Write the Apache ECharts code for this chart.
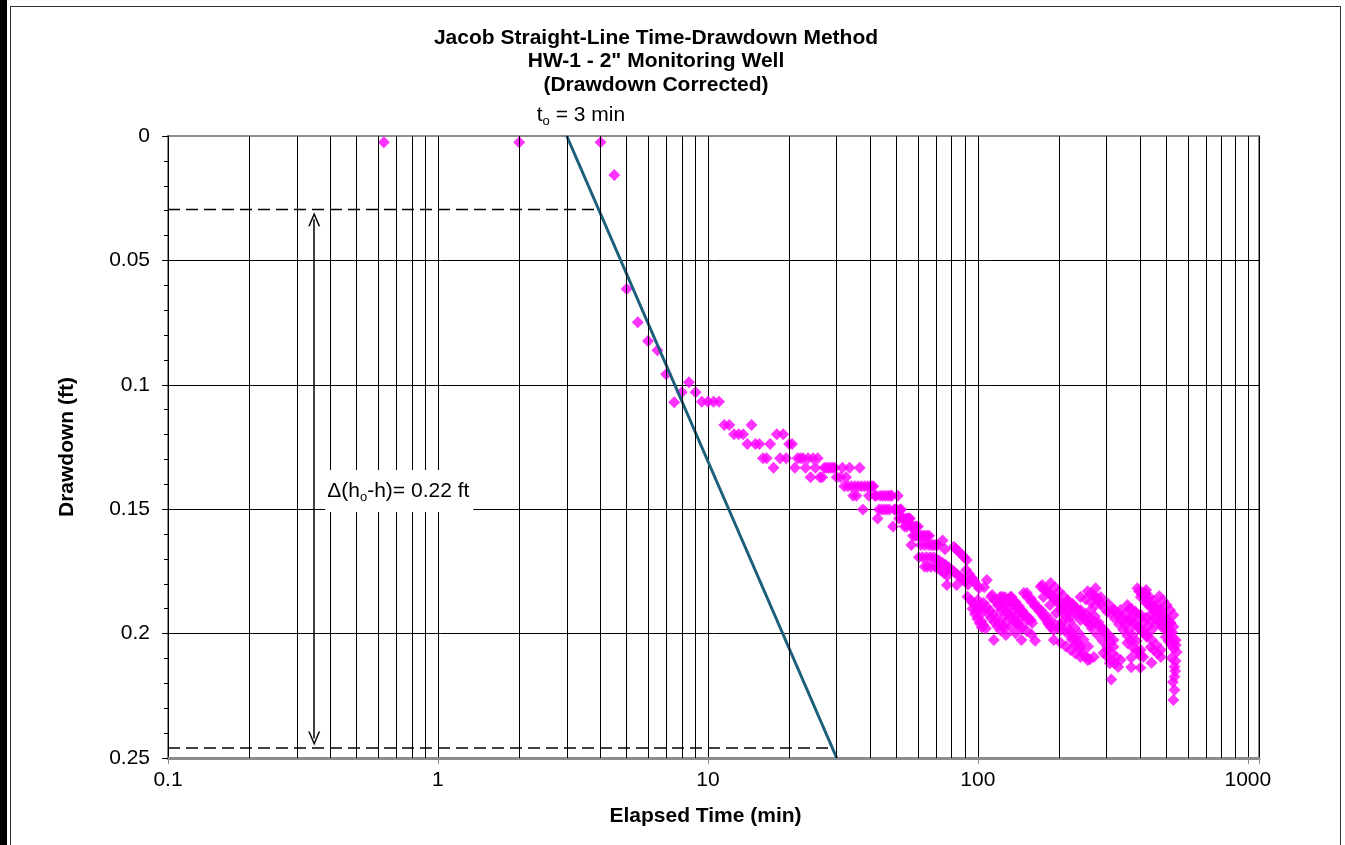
<!DOCTYPE html>
<html>
<head>
<meta charset="utf-8">
<title>Jacob Straight-Line Time-Drawdown Method</title>
<script src="https://cdn.jsdelivr.net/npm/echarts@6.0.0/dist/echarts.min.js"></script>
<style>
html, body { margin: 0; padding: 0; background: #fff; }
#chart { position: absolute; left: 0; top: 0; width: 1345px; height: 845px; }
.edge { position: absolute; left: 0; top: 0; width: 7px; height: 845px; background: #000; }
.frame { position: absolute; left: 10px; top: 6px; width: 1329px; height: 860px; border: 1px solid #333; pointer-events: none; }
</style>
</head>
<body>
<div id="chart"></div>
<div class="edge"></div>
<div class="frame"></div>
<script>
const titleLines = ['Jacob Straight-Line Time-Drawdown Method', 'HW-1 - 2" Monitoring Well', '(Drawdown Corrected)'];
const xTickLabels = ['0.1', '1', '10', '100', '1000'];

// [elapsed time (min), drawdown (ft)]
const earlyPoints = [
  [0.63, 0.0025], [2, 0.0025], [4, 0.0025], [4.5, 0.0157], [5, 0.0615], [5.5, 0.0749], [6, 0.0824],
  [6.5, 0.0861], [7, 0.0958], [7.5, 0.107], [8, 0.103], [8.5, 0.099], [9, 0.103], [9.5, 0.1068],
  [10, 0.1068], [10.5, 0.1068], [11, 0.1068], [11.5, 0.1162], [12, 0.1162], [12.5, 0.1199],
  [13, 0.1199], [13.5, 0.1199], [14, 0.1238], [14.5, 0.1162]
];

const midPoints = [
  [15, 0.1238], [15.5, 0.1238], [16, 0.1295], [16.5, 0.1295], [17, 0.1238], [17.5, 0.1333], [18, 0.1199],
  [18.5, 0.1295], [19, 0.1199], [19.5, 0.1295], [20, 0.1238], [20.5, 0.1238], [21, 0.1333], [21.5, 0.1295],
  [22, 0.1295], [22.5, 0.1295], [23, 0.1333], [23.5, 0.1295], [24, 0.1372], [24.5, 0.1295], [25, 0.1333],
  [25.5, 0.1295], [26, 0.1372], [26.5, 0.1372], [27, 0.1333], [27.5, 0.1333], [28, 0.1333], [28.5, 0.1333],
  [29, 0.1333], [29.5, 0.1333], [30, 0.1372], [31, 0.1372], [31.5, 0.1333], [32, 0.1408], [32.5, 0.1372],
  [33, 0.1408], [33.5, 0.1333], [34, 0.1408], [34.5, 0.1446], [35, 0.1408], [35.5, 0.1446], [36, 0.1408],
  [36.5, 0.1333], [37, 0.1408], [37.5, 0.1501], [38, 0.1408], [39, 0.1408], [39.5, 0.1446], [40, 0.1408],
  [40.5, 0.1408], [41, 0.1408], [41.5, 0.1446], [42, 0.1446], [42.5, 0.1537], [43, 0.1501], [43.5, 0.1446],
  [44, 0.1501], [44.5, 0.1446], [45, 0.1501], [45.5, 0.1446], [46, 0.1501], [46.5, 0.1446], [47, 0.1501],
  [47.5, 0.1446], [48, 0.1446], [48.5, 0.157], [49, 0.1501], [49.5, 0.1501], [50, 0.1501], [50.5, 0.1446],
  [51, 0.1537], [51.5, 0.1501], [52, 0.1501], [52.5, 0.1537], [53, 0.1537], [53.5, 0.157], [54, 0.1537],
  [54.5, 0.157], [55, 0.1537], [55.5, 0.1537], [56, 0.1537], [56.5, 0.157], [56.7, 0.1644], [57, 0.157],
  [57.5, 0.1607], [58, 0.157], [58.5, 0.1607], [59, 0.157], [59.5, 0.1607], [60, 0.157], [61, 0.1607],
  [61.5, 0.1644], [62, 0.1607], [63, 0.1607], [63.5, 0.1644], [64, 0.1607], [65, 0.1607], [65.5, 0.1644],
  [66, 0.1607], [67, 0.1644], [68, 0.1644], [69, 0.1644], [70, 0.1644], [71, 0.1644],
  [60.5, 0.1693], [62.5, 0.1693], [64.5, 0.1693], [66.5, 0.1693], [68.5, 0.1693],
  [70, 0.1699], [72, 0.1707], [74, 0.1716], [76, 0.1724], [78, 0.1734], [80, 0.1743], [82, 0.1753],
  [84, 0.1763], [86, 0.1772], [88, 0.1783], [90, 0.1793], [92, 0.1803],
  [63.5, 0.1731], [65, 0.1731], [67, 0.1731], [69.5, 0.1731], [71, 0.1736], [73, 0.1746], [75, 0.1757], [77, 0.1767],
  [74, 0.1626], [75.5, 0.1661], [76.8, 0.1805], [83.5, 0.1805],
  [81.5, 0.1651], [83, 0.166], [85, 0.1671], [87, 0.1682], [89, 0.1693], [91, 0.1704],
  [90.5, 0.1744], [93, 0.1761], [95, 0.1776], [97, 0.179], [99, 0.1804], [101, 0.1818],
  [91.5, 0.1852], [94, 0.1866], [96, 0.1877], [98, 0.1888], [100, 0.1897], [102, 0.1905]
];

const latePoints = [
  [97, 0.188], [99, 0.1905], [101, 0.1928], [103, 0.195], [105, 0.1966], [107, 0.1979],
  [95.5, 0.19], [97.5, 0.1921], [99.5, 0.194], [101.5, 0.1958], [103.5, 0.1975],
  [105, 0.1877], [108, 0.1893], [111, 0.1908], [114, 0.1923], [117, 0.194], [120, 0.1956], [123, 0.1968], [125, 0.1977],
  [113, 0.1845], [116, 0.1866], [119, 0.1887], [122, 0.1908], [125.5, 0.1929], [128.5, 0.195], [132, 0.1973],
  [121, 0.1853], [124, 0.1868], [127, 0.1882], [130, 0.1896], [134, 0.1914], [137.5, 0.193], [141, 0.1945],
  [132, 0.1853], [135, 0.1867], [139, 0.1885], [143, 0.1903], [147, 0.1922], [152, 0.1945],
  [138, 0.1873], [142, 0.189], [146, 0.1908], [150, 0.1925], [154.5, 0.1941], [159, 0.1957],
  [152, 0.1837], [157, 0.1858], [162, 0.1878], [167, 0.1898], [172, 0.1918], [177, 0.1937], [182, 0.1957], [186, 0.1973],
  [173, 0.1805], [179, 0.1823], [185, 0.1841], [191, 0.1858], [198, 0.1877], [205, 0.1896], [213, 0.1915], [221, 0.1933],
  [186, 0.1797], [193, 0.1814], [200, 0.1831], [207, 0.1848], [215, 0.1866], [223, 0.1883], [231, 0.19], [240, 0.1917],
  [203, 0.2038], [212, 0.2052], [221, 0.2066], [230, 0.208], [240, 0.2094],
  [213, 0.1877], [222, 0.19], [231, 0.1922], [240, 0.1945],
  [224, 0.188], [231.5, 0.1897], [239, 0.1914], [246, 0.1931], [254, 0.1948], [262, 0.1965],
  [221, 0.1998], [227, 0.202], [233, 0.204], [239, 0.2061], [245, 0.2082], [255, 0.2106],
  [262, 0.1905], [271, 0.193], [280, 0.1955], [289, 0.1979], [298, 0.2003], [308, 0.2028], [318, 0.2053],
  [269, 0.1845], [277, 0.1862], [285, 0.1879], [293, 0.1896], [302, 0.1913],
  [310, 0.1917], [322, 0.194], [334, 0.1963], [346, 0.1986], [358, 0.2009], [371, 0.2032], [388, 0.2066],
  [338, 0.1905], [352, 0.1923], [366, 0.1941], [380, 0.1959], [394, 0.1977], [408, 0.1995], [422, 0.2013],
  [358, 0.1885], [372, 0.1902], [386, 0.1919], [400, 0.1936], [414, 0.1953], [428, 0.197], [440, 0.1986],
  [401, 0.1853], [418, 0.1874], [436, 0.1895], [455, 0.1917], [474, 0.194], [495, 0.1966], [518, 0.1998],
  [437, 0.1877], [452, 0.1892], [468, 0.1907], [484, 0.1923], [500, 0.194], [518, 0.1957],
  [292, 0.2078], [301, 0.2092], [311, 0.2106], [321, 0.212], [331, 0.2134],
  [437, 0.2054], [450, 0.2067], [463, 0.208], [476, 0.2094],
  [175, 0.1853], [185, 0.1885], [195, 0.1917], [206, 0.195], [218, 0.1985], [230, 0.202], [240, 0.205], [250, 0.209],
  [216, 0.187], [228, 0.1897], [240, 0.1924], [252, 0.1951], [264, 0.1978], [277, 0.2005], [290, 0.203], [302, 0.2054],
  [285, 0.1853], [300, 0.1875], [316, 0.1898], [333, 0.1921], [353, 0.1945],
  [368, 0.1945], [385, 0.1965], [403, 0.1985], [421, 0.2005], [440, 0.2025], [458, 0.2045], [476, 0.2066],
  [476, 0.1905], [492, 0.1935], [508, 0.1965], [524, 0.1995], [541, 0.2026],
  [100, 0.1865], [103, 0.1883], [106, 0.1901], [109, 0.1919], [112, 0.1937], [115, 0.1953], [118, 0.197], [121, 0.1986],
  [112, 0.1853], [116, 0.1869], [120, 0.1885], [124, 0.19], [128, 0.1915], [132, 0.193], [136, 0.1945], [140, 0.1959], [144, 0.1973],
  [126, 0.1853], [130, 0.1865], [134, 0.1877], [138, 0.1889], [142, 0.1901], [146, 0.1913], [150, 0.1925], [154, 0.1937], [157, 0.1945],
  [148, 0.1837], [153, 0.1855], [158, 0.1873], [163, 0.1891], [169, 0.191], [175, 0.193], [181, 0.195], [186, 0.1968], [191, 0.1986],
  [171, 0.1812], [176, 0.1823], [181, 0.1834], [187, 0.1846], [193, 0.1858], [199, 0.187], [206, 0.1887], [214, 0.1905],
  [203, 0.1905], [211, 0.1928], [219, 0.1952], [228, 0.1976], [237, 0.2], [246, 0.2024], [256, 0.2052], [269, 0.2094],
  [240, 0.1905], [250, 0.1921], [260, 0.1937], [270, 0.1952], [281, 0.1968], [293, 0.1985], [305, 0.2005], [318, 0.2026],
  [318, 0.1905], [329, 0.1925], [340, 0.1945], [351, 0.1965], [362, 0.1985], [374, 0.2006], [387, 0.203], [401, 0.2066],
  [365, 0.19], [383, 0.1912], [401, 0.1924], [420, 0.1936], [440, 0.1948], [460, 0.1961], [480, 0.1973], [500, 0.1986],
  [425, 0.1878], [440, 0.189], [455, 0.1902], [470, 0.1915], [485, 0.1928], [500, 0.1941], [515, 0.1956], [530, 0.1972],
  [302, 0.2066], [314, 0.208], [326, 0.2094], [338, 0.2106],
  [358, 0.2038], [375, 0.2056], [392, 0.2075], [410, 0.2094],
  [240, 0.1853], [251, 0.1862], [262, 0.1874], [273, 0.1885],
  [418, 0.1837], [432, 0.1853], [447, 0.187], [461, 0.1887], [476, 0.1905],
  [437, 0.1925], [455, 0.194], [473, 0.1955], [490, 0.1975], [507, 0.1995], [524, 0.202], [541, 0.2046],
  [203, 0.1965], [210, 0.1985], [217, 0.2005], [223, 0.2025], [230, 0.2046],
  [171, 0.1905], [178, 0.1925], [186, 0.1946], [194, 0.1966], [203, 0.1986],
  [255, 0.183], [263, 0.184], [271, 0.1851], [280, 0.1862],
  [395, 0.183], [405, 0.184], [415, 0.185], [425, 0.186],
  [140, 0.196], [146, 0.1975], [152, 0.199], [158, 0.2004],
  [470, 0.185], [485, 0.1867], [500, 0.1885], [515, 0.1905], [530, 0.1925],
  [497, 0.2014], [508, 0.203], [520, 0.2045], [532, 0.206], [545, 0.2074], [522, 0.2098], [540, 0.211],
  [535, 0.2133], [538, 0.215], [535, 0.2173], [528, 0.2195], [535, 0.2227], [530, 0.2267],
  [108, 0.1785], [105.6, 0.1814], [123, 0.1852], [133, 0.1852], [114.6, 0.2026], [127, 0.2006], [138, 0.1999],
  [145, 0.2026], [163, 0.2029], [191, 0.2026], [183, 0.1961], [273, 0.1818], [390, 0.1818], [420, 0.1825],
  [312, 0.2184], [370, 0.2097], [370, 0.2135], [400, 0.209], [400, 0.2137], [440, 0.2117], [260, 0.2103], [308, 0.2119]
];

// straight line fit and the construction lines
const jacobLine = [[3, 0], [30, 0.25]];
const dashUpper = [[0.1, 0.0295], [3.94, 0.0295]];
const dashLower = [[0.1, 0.246], [28.9, 0.246]];
const deltaArrow = [[0.348, 0.0335], [0.348, 0.2422]];
const deltaLabelAt = [0.389, 0.1427];

const FONT = '"Liberation Sans", Arial, sans-serif';
const arrowHead = 'path://M6,0 L12,14 L10.4,14 L6,3.6 L1.6,14 L0,14 Z';

const chart = echarts.init(document.getElementById('chart'));

// 2..9 gridlines inside every decade
const minorGrid = [];
for (let e = -1; e < 3; e++) {
    for (let k = 2; k <= 9; k++) {
        minorGrid.push({ xAxis: +(k * Math.pow(10, e)).toPrecision(3) });
    }
}

function xLabel(v) {
    const p = Math.log10(v);
    const k = Math.round(p);
    if (Math.abs(p - k) > 1e-6) return '';
    return xTickLabels[k + 1] || '';
}

const subRich = {
    a: { fontSize: 21, color: '#000', fontFamily: FONT, lineHeight: 26, verticalAlign: 'middle' },
    s: { fontSize: 13, color: '#000', fontFamily: FONT, lineHeight: 15, verticalAlign: 'bottom' }
};

const option = {
    animation: false,
    backgroundColor: '#fff',
    textStyle: { fontFamily: FONT },
    grid: {
        left: 168,
        top: 136,
        right: 86,
        bottom: 87,
        show: true,
        borderColor: '#8c8c8c',
        borderWidth: 2
    },
    graphic: [{
        type: 'text',
        x: 656,
        y: 26,
        style: {
            text: titleLines.join('\n'),
            font: 'bold 21px ' + FONT,
            textAlign: 'center',
            lineHeight: 23.5,
            fill: '#000'
        }
    }],
    xAxis: {
        type: 'log',
        logBase: 10,
        min: 0.1,
        max: 1100,
        name: 'Elapsed Time (min)',
        nameLocation: 'middle',
        nameGap: 48,
        nameTextStyle: { fontSize: 21, fontWeight: 'bold', color: '#000', fontFamily: FONT, padding: [0, 16, 0, 0] },
        axisLine: { show: true, onZero: false, lineStyle: { color: '#8c8c8c', width: 3 } },
        axisTick: { show: true, length: 6, lineStyle: { color: '#8c8c8c' } },
        axisLabel: { fontSize: 21, color: '#000', margin: 12, formatter: xLabel, fontFamily: FONT },
        splitLine: { show: true, lineStyle: { color: '#000', width: 1 } }
    },
    yAxis: {
        type: 'value',
        inverse: true,
        min: 0,
        max: 0.25,
        interval: 0.05,
        name: 'Drawdown (ft)',
        nameLocation: 'middle',
        nameGap: 90,
        nameRotate: 90,
        nameTextStyle: { fontSize: 21, fontWeight: 'bold', color: '#000', fontFamily: FONT },
        axisLine: { show: true, onZero: false, lineStyle: { color: '#000', width: 1 } },
        axisTick: { show: true, length: 6, lineStyle: { color: '#000' } },
        minorTick: { show: true, splitNumber: 5, length: 4, lineStyle: { color: '#000' } },
        axisLabel: { fontSize: 21, color: '#000', margin: 18, fontFamily: FONT },
        splitLine: { show: true, lineStyle: { color: ['#8c8c8c', '#000', '#000', '#000', '#000', '#8c8c8c'], width: 1 } }
    },
    series: [
        {
            // minor log gridlines
            type: 'line',
            data: [],
            z: 1,
            markLine: {
                silent: true,
                symbol: 'none',
                label: { show: false },
                lineStyle: { color: '#000', width: 1, type: 'solid' },
                data: minorGrid
            }
        },
        {
            name: 'Drawdown',
            type: 'scatter',
            symbol: 'diamond',
            symbolSize: 12,
            itemStyle: { color: '#ff00ff' },
            data: earlyPoints.concat(midPoints, latePoints),
            z: 3
        },
        {
            name: 'Jacob',
            type: 'line',
            data: jacobLine,
            showSymbol: false,
            lineStyle: { color: '#1c5f7c', width: 3 },
            z: 4
        },
        {
            type: 'line',
            data: dashUpper,
            showSymbol: false,
            lineStyle: { color: '#000', width: 1.5, type: [12, 6] },
            z: 4
        },
        {
            type: 'line',
            data: dashLower,
            showSymbol: false,
            lineStyle: { color: '#000', width: 1.5, type: [12, 6] },
            z: 4
        },
        {
            type: 'line',
            data: [],
            z: 4,
            markLine: {
                silent: true,
                symbol: [arrowHead, arrowHead],
                symbolSize: [12, 14],
                label: { show: false },
                lineStyle: { color: '#000', width: 1.5, type: 'solid' },
                itemStyle: { color: '#000' },
                data: [[{ coord: deltaArrow[0] }, { coord: deltaArrow[1] }]]
            }
        },
        {
            // text annotations
            type: 'scatter',
            symbolSize: 0,
            itemStyle: { color: '#000', opacity: 1 },
            silent: true,
            z: 6,
            data: [
                {
                    value: jacobLine[0],
                    label: {
                        show: true,
                        color: '#000',
                        position: [-30, -21],
                        align: 'left',
                        verticalAlign: 'middle',
                        formatter: '{a|t}{s|o}{a| = 3 min}',
                        rich: subRich
                    }
                },
                {
                    value: deltaLabelAt,
                    label: {
                        show: true,
                        color: '#000',
                        position: [-2, 0],
                        align: 'left',
                        verticalAlign: 'middle',
                        backgroundColor: '#fff',
                        padding: [8, 4, 8, 2],
                        formatter: '{a|\u0394(h}{s|o}{a|-h)= 0.22 ft}',
                        rich: subRich
                    }
                }
            ]
        }
    ]
};

chart.setOption(option);
</script>
</body>
</html>
